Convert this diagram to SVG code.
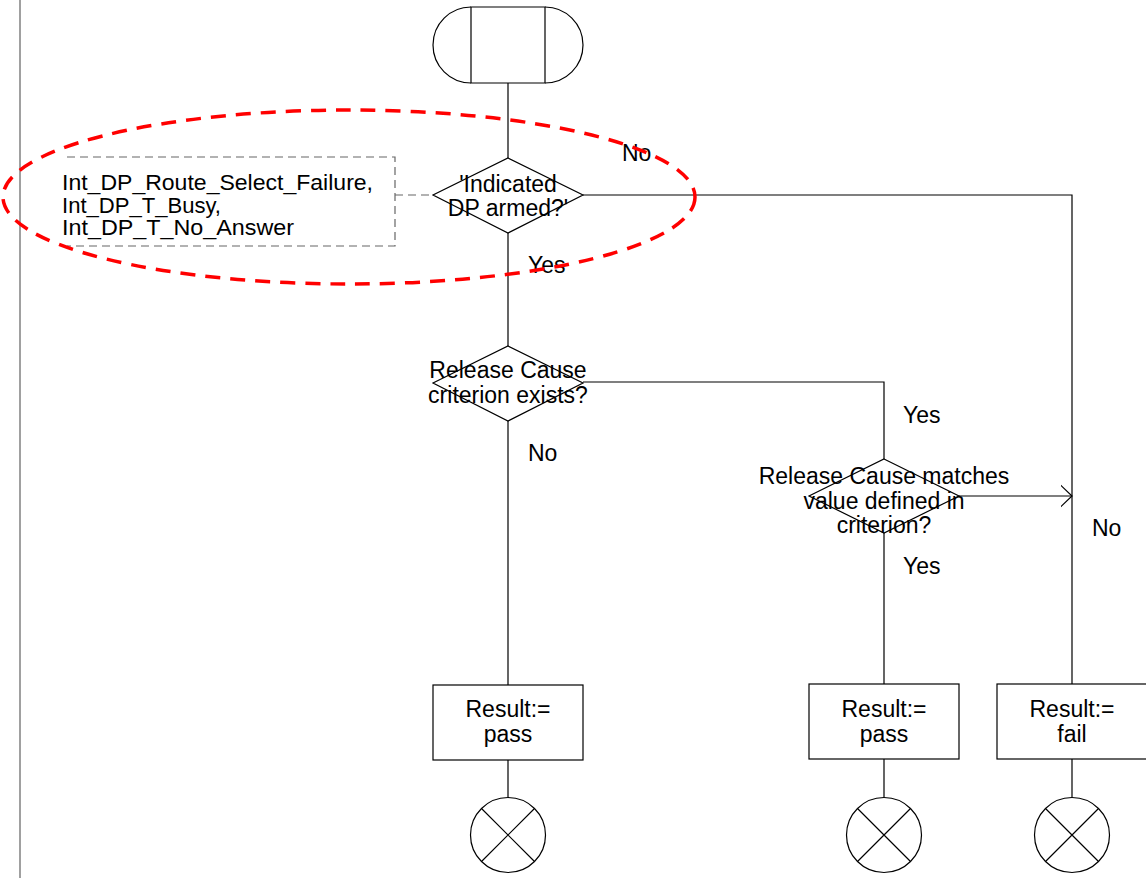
<svg xmlns="http://www.w3.org/2000/svg" width="1146" height="878" viewBox="0 0 1146 878">
<style>
.s{fill:#fff;stroke:#000;stroke-width:1.2}
.l{fill:none;stroke:#000;stroke-width:1.2}
.d{fill:none;stroke:#666;stroke-width:1.2;stroke-dasharray:8,5}
.t{font-family:"Liberation Sans",Arial,sans-serif;font-size:23px;fill:#000}
.c{font-family:"Liberation Sans",Arial,sans-serif;font-size:21.5px;fill:#000}
.m{text-anchor:middle}
</style>
<defs>
<marker id="arr" viewBox="0 0 12 24" refX="11.5" refY="12" markerWidth="12" markerHeight="24" markerUnits="userSpaceOnUse" orient="auto">
<path d="M0,1 L11.5,12 L0,23" fill="none" stroke="#000" stroke-width="1.2"/>
</marker>
</defs>
<rect x="0" y="0" width="1146" height="878" fill="#fff"/>
<line x1="20" y1="0" x2="20" y2="878" stroke="#808080" stroke-width="1.5"/>
<g id="connectors">
<path class="l" d="M508,83 V158 M508,233 V346 M508,421 V685 M508,760 V797"/>
<path class="l" d="M583,382 H884 V459 M884,533 V684 M884,759 V797"/>
<path class="l" d="M583,195 H1072 V684 M1072,759 V797"/>
<path class="l" d="M959,496 H1072" marker-end="url(#arr)"/>
<path class="d" d="M395,195 H433"/>
</g>
<g id="start">
<path class="s" d="M471,7 H545 V83 H471 Z"/>
<path class="l" d="M471,7 A38,38 0 0 0 471,83 M545,7 A38,38 0 0 1 545,83"/>
</g>
<g id="comment">
<path class="d" d="M67,157 H395 V246 H67"/>
<text class="c" x="62" y="190" textLength="311" lengthAdjust="spacingAndGlyphs">Int_DP_Route_Select_Failure,</text>
<text class="c" x="62" y="212.5" textLength="159" lengthAdjust="spacingAndGlyphs">Int_DP_T_Busy,</text>
<text class="c" x="62" y="235" textLength="232" lengthAdjust="spacingAndGlyphs">Int_DP_T_No_Answer</text>
</g>
<g id="dec1">
<path class="s" d="M508,158 L583,195 L508,233 L433,195 Z"/>
<text class="t m" x="508" y="192">'Indicated</text>
<text class="t m" x="508" y="216">DP armed?'</text>
</g>
<g id="dec2">
<path class="s" d="M508,346 L583,383 L508,421 L433,383 Z"/>
<text class="t m" x="508" y="378">Release Cause</text>
<text class="t m" x="508" y="403">criterion exists?</text>
</g>
<g id="dec3">
<path class="s" d="M884,459 L959,496 L884,533 L809,496 Z"/>
<text class="t m" x="884" y="484">Release Cause matches</text>
<text class="t m" x="884" y="508.5">value defined in</text>
<text class="t m" x="884" y="533">criterion?</text>
</g>
<g id="pass1">
<rect class="s" x="433" y="685" width="150" height="75"/>
<text class="t m" x="508" y="717">Result:=</text>
<text class="t m" x="508" y="742">pass</text>
</g>
<g id="pass2">
<rect class="s" x="809" y="684" width="150" height="75"/>
<text class="t m" x="884" y="717">Result:=</text>
<text class="t m" x="884" y="742">pass</text>
</g>
<g id="fail">
<rect class="s" x="997" y="684" width="150" height="75"/>
<text class="t m" x="1072" y="717">Result:=</text>
<text class="t m" x="1072" y="742">fail</text>
</g>
<g id="end1">
<circle class="s" cx="508" cy="835" r="37.5"/>
<path class="l" d="M481.5,808.5 L534.5,861.5 M534.5,808.5 L481.5,861.5"/>
</g>
<g id="end2">
<circle class="s" cx="884" cy="835" r="37.5"/>
<path class="l" d="M857.5,808.5 L910.5,861.5 M910.5,808.5 L857.5,861.5"/>
</g>
<g id="end3">
<circle class="s" cx="1072" cy="835" r="37.5"/>
<path class="l" d="M1045.5,808.5 L1098.5,861.5 M1098.5,808.5 L1045.5,861.5"/>
</g>
<g id="labels">
<text class="t" x="622" y="161">No</text>
<text class="t" x="528" y="273">Yes</text>
<text class="t" x="903" y="423">Yes</text>
<text class="t" x="528" y="461">No</text>
<text class="t" x="903" y="574">Yes</text>
<text class="t" x="1092" y="536">No</text>
</g>
<ellipse id="highlight" cx="349" cy="197" rx="346" ry="87" fill="none" stroke="#ff0000" stroke-width="3.5" stroke-dasharray="15,10"/>
</svg>
